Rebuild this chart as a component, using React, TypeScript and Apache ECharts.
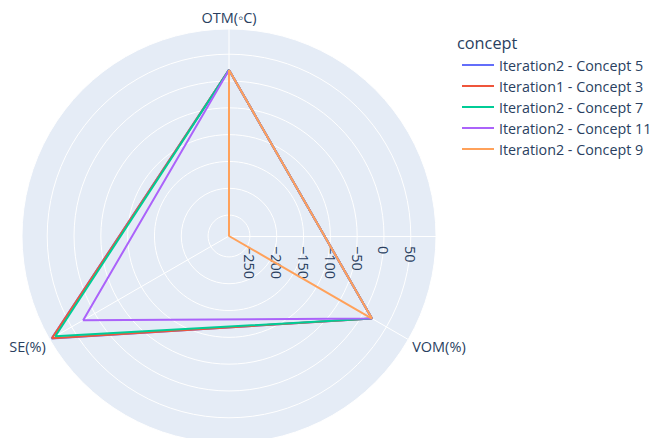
import React, { useEffect, useRef } from 'react';
import * as echarts from 'echarts';

const categories = ['OTM(◦C)', 'VOM(%)', 'SE(%)'];
const seriesNames = [
  'Iteration2 - Concept 5',
  'Iteration1 - Concept 3',
  'Iteration2 - Concept 7',
  'Iteration2 - Concept 11',
  'Iteration2 - Concept 9',
];
const concept5 = [20.7, 18.8, 93];
const concept3 = [20.7, 18.8, 92];
const concept7 = [20.7, 18.8, 85];
const concept11 = [20.7, 18.8, 25];
const concept9 = [20.7, 18.8, -289];
const seriesValues = [concept5, concept3, concept7, concept11, concept9];
const colors = ['#636efa', '#EF553B', '#00cc96', '#ab63fa', '#FFA15A'];
const radialMin = -289;
const radialMax = 97;

const FONT = '"Open Sans", Verdana, Arial, sans-serif';
const TXT = '#2a3f5f';
const CENTER = [229, 236];
const RADIUS = 207;

export default function App() {
  const ref = useRef<HTMLDivElement>(null);
  useEffect(() => {
    if (!ref.current) return;
    const chart = echarts.init(ref.current, null, { renderer: 'svg' });
    const fmt = (v: number) =>
      Math.abs(v % 50) > 1e-9 ? '' : v < 0 ? '\u2212' + Math.abs(v) : String(v);
    const angleFmt = (v: number) => {
      const i = Math.round(v);
      if (i < 0 || i >= categories.length) return '';
      return (i === 0 ? '{t|' : '{b|') + categories[i] + '}';
    };
    chart.setOption({
      animation: false,
      backgroundColor: '#ffffff',
      textStyle: { fontFamily: FONT },
      title: {
        text: 'concept',
        left: 452,
        top: 30,
        textStyle: { color: TXT, fontSize: 16.3, fontWeight: 'normal', fontFamily: FONT },
      },
      legend: {
        orient: 'vertical',
        left: 457,
        top: 53,
        itemWidth: 32,
        itemHeight: 2,
        icon: 'rect',
        itemGap: 7,
        data: seriesNames,
        textStyle: { color: TXT, fontSize: 14.3, lineHeight: 14, fontFamily: FONT },
      },
      polar: [
        { center: CENTER, radius: RADIUS },
        { center: CENTER, radius: RADIUS },
      ],
      angleAxis: [
        {
          polarIndex: 0,
          type: 'value',
          min: 0,
          max: categories.length,
          interval: 1,
          startAngle: 90,
          clockwise: true,
          z: 1,
          axisLine: { show: false },
          axisTick: { show: false },
          axisLabel: {
            color: TXT,
            fontSize: 14.5,
            fontFamily: FONT,
            margin: 4.5,
            formatter: angleFmt,
            rich: {
              t: { color: TXT, fontSize: 14.5, fontFamily: FONT, lineHeight: 15 },
              b: { color: TXT, fontSize: 14.5, fontFamily: FONT, lineHeight: 10 },
            },
          },
          splitLine: { show: true, lineStyle: { color: '#ffffff', width: 1 } },
        },
        {
          polarIndex: 1,
          type: 'value',
          min: 0,
          max: 360,
          startAngle: 0,
          show: false,
          axisLine: { show: false },
          axisTick: { show: false },
          axisLabel: { show: false },
          splitLine: { show: false },
        },
      ],
      radiusAxis: [
        {
          polarIndex: 0,
          type: 'value',
          min: radialMin,
          max: radialMax,
          splitNumber: 7,
          z: 0,
          axisLine: { show: false, lineStyle: { color: 'rgba(0,0,0,0)' } },
          axisTick: { show: false },
          axisLabel: { show: false },
          splitLine: { show: false },
          splitArea: { show: true, areaStyle: { color: ['#E5ECF6'] } },
        },
        {
          polarIndex: 1,
          type: 'value',
          min: radialMin,
          max: radialMax,
          splitNumber: 7,
          z: 1,
          axisLine: { show: true, lineStyle: { color: '#ffffff', width: 1 } },
          axisTick: { show: false },
          splitLine: { show: true, lineStyle: { color: '#ffffff', width: 1 } },
          axisLabel: {
            show: true,
            showMinLabel: false,
            showMaxLabel: false,
            rotate: -90,
            margin: -10,
            align: 'left',
            verticalAlign: 'middle',
            color: TXT,
            fontSize: 14.5,
            fontFamily: FONT,
            formatter: fmt,
          },
        },
      ],
      series: seriesValues.map((vals, i) => ({
        name: seriesNames[i],
        type: 'line',
        coordinateSystem: 'polar',
        polarIndex: 0,
        symbol: 'none',
        clip: false,
        z: 2,
        color: colors[i],
        lineStyle: { color: colors[i], width: 2 },
        data: [...vals.map((v, j) => [v, j]), [vals[0], categories.length]],
      })),
    });
    return () => chart.dispose();
  }, []);
  return (
    <div
      ref={ref}
      style={{ position: 'absolute', left: 0, top: 0, width: 654, height: 438 }}
    />
  );
}
